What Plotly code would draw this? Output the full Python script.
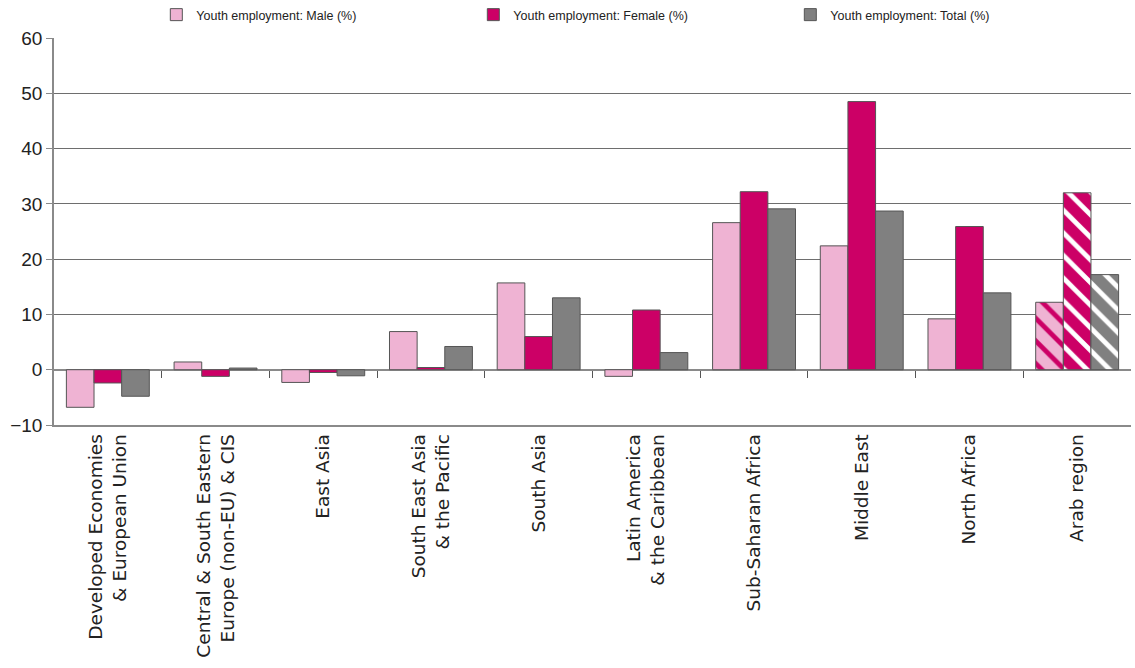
import plotly.graph_objects as go

regions = [
    "Developed Economies<br>& European Union",
    "Central & South Eastern<br>Europe (non-EU) & CIS",
    "East Asia",
    "South East Asia<br>& the Pacific",
    "South Asia",
    "Latin America<br>& the Caribbean",
    "Sub-Saharan Africa",
    "Middle East",
    "North Africa",
    "Arab region",
]

male = [-6.8, 1.4, -2.3, 6.9, 15.7, -1.2, 26.6, 22.4, 9.2, 12.2]
female = [-2.4, -1.2, -0.5, 0.4, 6.0, 10.8, 32.2, 48.5, 25.9, 32.0]
total = [-4.8, 0.3, -1.1, 4.2, 13.0, 3.1, 29.1, 28.7, 13.9, 17.2]

y_ticks = [-10, 0, 10, 20, 30, 40, 50, 60]

PINK = "#EFB3D3"
MAGENTA = "#CC0066"
GREY = "#808080"
OUTLINE = "#555555"
AXIS = "#8A8A8A"
FONT = "DejaVu Sans"
LEGEND_FONT = "Liberation Sans Narrow, Liberation Sans, sans-serif"

# the Arab aggregate is drawn hatched to set it apart from the sub-regions
hatch = ["" for _ in regions[:-1]] + ["\\"]


def series(name, values, color, stripe):
    return go.Bar(
        name=name,
        x=list(range(len(regions))),
        y=values,
        marker=dict(
            color=color,
            line=dict(color=OUTLINE, width=1),
            pattern=dict(shape=hatch, fgcolor=stripe, fgopacity=1,
                         size=16, solidity=0.3),
        ),
    )


fig = go.Figure()
fig.add_trace(series("Youth employment: Male (%)", male, PINK, MAGENTA))
fig.add_trace(series("Youth employment: Female (%)", female, MAGENTA, "white"))
fig.add_trace(series("Youth employment: Total (%)", total, GREY, "white"))

# invisible helper trace so the boundary ticks sit on the zero line
fig.add_trace(go.Bar(x=list(range(len(regions))), y=[None] * len(regions),
                     xaxis="x2", showlegend=False, hoverinfo="skip"))

fig.update_layout(
    width=1135,
    height=668,
    margin=dict(l=54, r=4, t=38, b=243, autoexpand=False),
    paper_bgcolor="white",
    plot_bgcolor="white",
    barmode="group",
    bargap=0.23,
    bargroupgap=0,
    font=dict(family=FONT, color="#222222"),
    legend=dict(
        orientation="h",
        x=0.095,
        xanchor="left",
        y=1.0,
        yanchor="top",
        yref="container",
        entrywidth=272,
        font=dict(size=12.5, family=LEGEND_FONT, color="#222222"),
        itemwidth=30,
        tracegroupgap=0,
    ),
    yaxis=dict(
        range=[-10, 60],
        tickvals=y_ticks,
        tickfont=dict(size=19, family="Liberation Sans"),
        showgrid=True,
        gridcolor="#6E6E6E",
        gridwidth=1,
        zeroline=True,
        zerolinecolor=AXIS,
        zerolinewidth=1.5,
        showline=True,
        linecolor=AXIS,
        linewidth=1.5,
        ticks="outside",
        ticklen=6,
        tickcolor=AXIS,
        domain=[0, 1],
    ),
    xaxis=dict(
        range=[-0.5, len(regions) - 0.5],
        tickvals=list(range(len(regions))),
        ticktext=regions,
        tickangle=-90,
        tickfont=dict(size=18.5),
        showline=True,
        linecolor=AXIS,
        linewidth=1.5,
        ticks="",
        showgrid=False,
        zeroline=False,
        automargin=False,
    ),
    xaxis2=dict(
        range=[-0.5, len(regions) - 0.5],
        overlaying="x",
        anchor="free",
        position=10 / 70,
        side="bottom",
        tickvals=[i + 0.5 for i in range(len(regions) - 1)],
        showticklabels=False,
        ticks="outside",
        ticklen=7,
        tickcolor="#555555",
        tickwidth=1,
        showline=False,
        showgrid=False,
        zeroline=False,
    ),
)

fig.write_html("out.html")
